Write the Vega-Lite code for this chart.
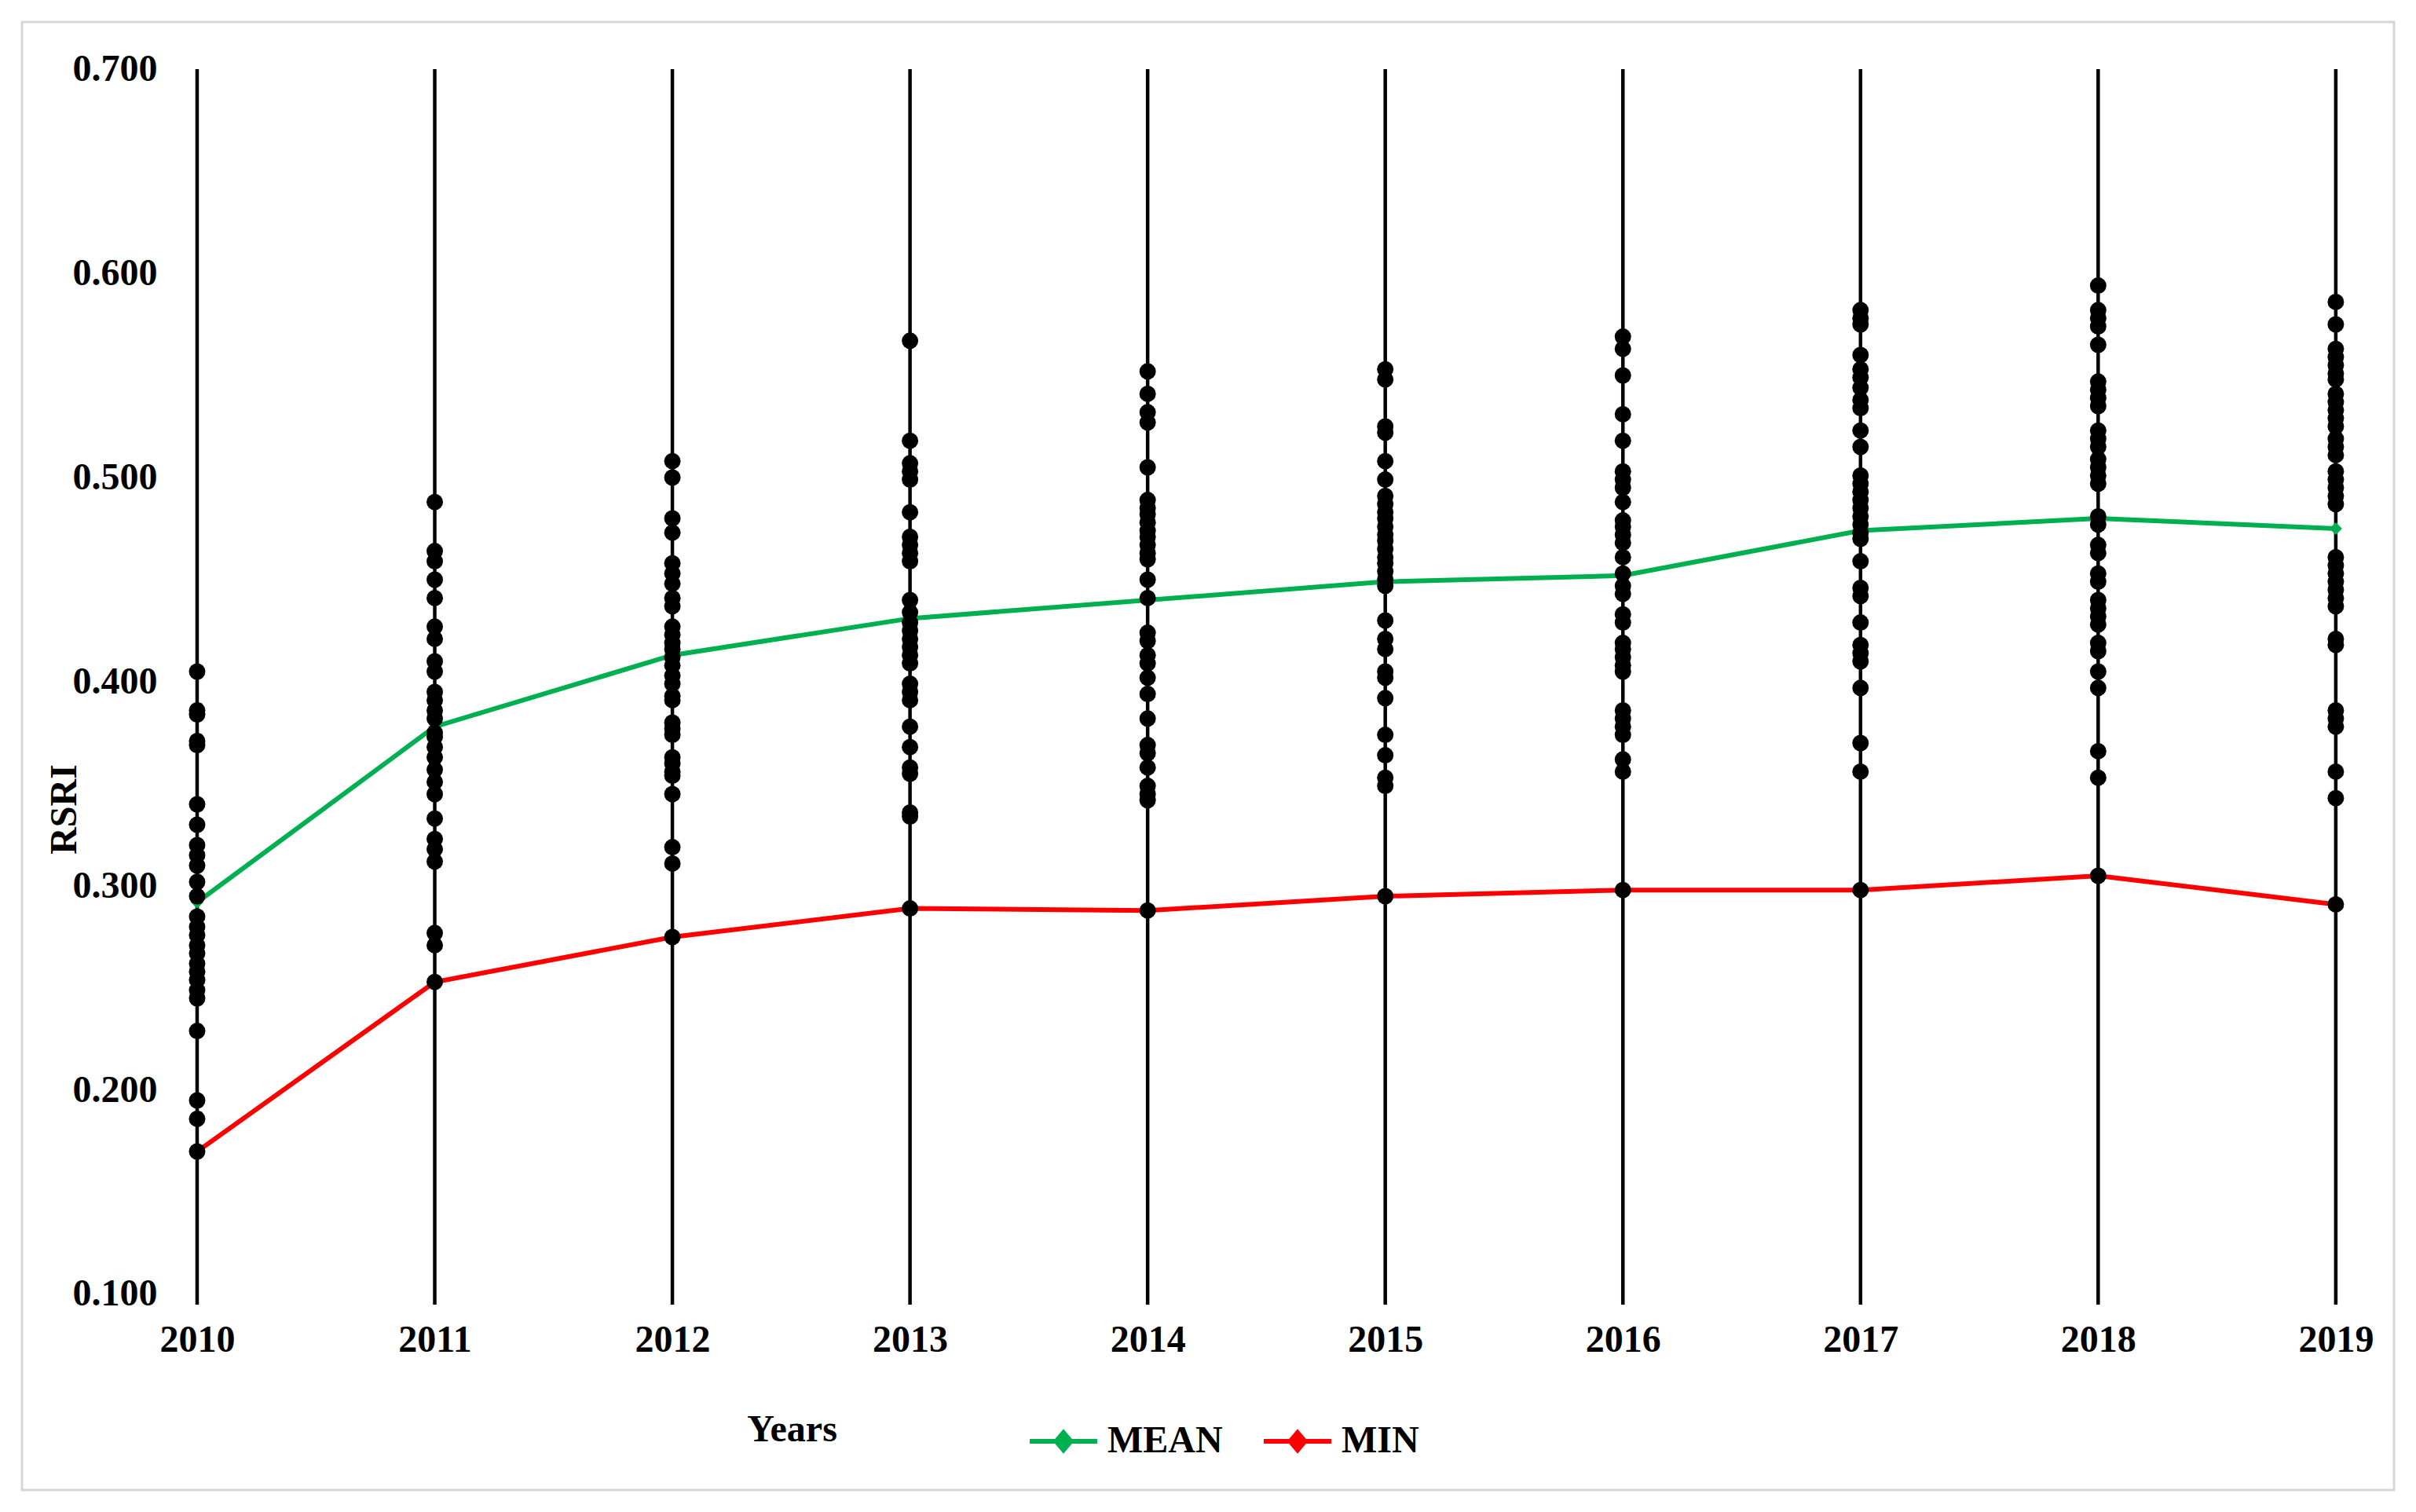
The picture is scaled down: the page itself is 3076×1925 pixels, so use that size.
{
  "$schema": "https://vega.github.io/schema/vega-lite/v6.json",
  "width": 3076,
  "height": 1925,
  "autosize": {"type": "fit", "contains": "padding"},
  "padding": {"left": 28, "top": 28, "right": 28, "bottom": 28},
  "background": "white",
  "config": {"view": {"stroke": "#d6d6d6", "strokeWidth": 3}, "font": "Liberation Serif"},
  "datasets": {
    "years": [{"year": 2010}, {"year": 2011}, {"year": 2012}, {"year": 2013}, {"year": 2014}, {"year": 2015}, {"year": 2016}, {"year": 2017}, {"year": 2018}, {"year": 2019}],
    "stats": [
      {"year": 2010, "stat": "MEAN", "value": 0.292}, {"year": 2011, "stat": "MEAN", "value": 0.378}, {"year": 2012, "stat": "MEAN", "value": 0.413}, {"year": 2013, "stat": "MEAN", "value": 0.431}, {"year": 2014, "stat": "MEAN", "value": 0.440}, {"year": 2015, "stat": "MEAN", "value": 0.449}, {"year": 2016, "stat": "MEAN", "value": 0.452}, {"year": 2017, "stat": "MEAN", "value": 0.474}, {"year": 2018, "stat": "MEAN", "value": 0.480}, {"year": 2019, "stat": "MEAN", "value": 0.475},
      {"year": 2010, "stat": "MIN", "value": 0.170}, {"year": 2011, "stat": "MIN", "value": 0.253}, {"year": 2012, "stat": "MIN", "value": 0.275}, {"year": 2013, "stat": "MIN", "value": 0.289}, {"year": 2014, "stat": "MIN", "value": 0.288}, {"year": 2015, "stat": "MIN", "value": 0.295}, {"year": 2016, "stat": "MIN", "value": 0.298}, {"year": 2017, "stat": "MIN", "value": 0.298}, {"year": 2018, "stat": "MIN", "value": 0.305}, {"year": 2019, "stat": "MIN", "value": 0.291}
    ],
    "dots": [
      {"year": 2010, "rsri": 0.405}, {"year": 2010, "rsri": 0.386}, {"year": 2010, "rsri": 0.384}, {"year": 2010, "rsri": 0.371}, {"year": 2010, "rsri": 0.369}, {"year": 2010, "rsri": 0.340}, {"year": 2010, "rsri": 0.330}, {"year": 2010, "rsri": 0.320}, {"year": 2010, "rsri": 0.315}, {"year": 2010, "rsri": 0.310}, {"year": 2010, "rsri": 0.302}, {"year": 2010, "rsri": 0.295}, {"year": 2010, "rsri": 0.285}, {"year": 2010, "rsri": 0.280}, {"year": 2010, "rsri": 0.276}, {"year": 2010, "rsri": 0.271}, {"year": 2010, "rsri": 0.267}, {"year": 2010, "rsri": 0.262}, {"year": 2010, "rsri": 0.258}, {"year": 2010, "rsri": 0.254}, {"year": 2010, "rsri": 0.249}, {"year": 2010, "rsri": 0.245}, {"year": 2010, "rsri": 0.229}, {"year": 2010, "rsri": 0.195}, {"year": 2010, "rsri": 0.186}, {"year": 2010, "rsri": 0.170},
      {"year": 2011, "rsri": 0.488}, {"year": 2011, "rsri": 0.464}, {"year": 2011, "rsri": 0.459}, {"year": 2011, "rsri": 0.450}, {"year": 2011, "rsri": 0.441}, {"year": 2011, "rsri": 0.427}, {"year": 2011, "rsri": 0.421}, {"year": 2011, "rsri": 0.410}, {"year": 2011, "rsri": 0.405}, {"year": 2011, "rsri": 0.395}, {"year": 2011, "rsri": 0.391}, {"year": 2011, "rsri": 0.386}, {"year": 2011, "rsri": 0.382}, {"year": 2011, "rsri": 0.375}, {"year": 2011, "rsri": 0.373}, {"year": 2011, "rsri": 0.368}, {"year": 2011, "rsri": 0.363}, {"year": 2011, "rsri": 0.357}, {"year": 2011, "rsri": 0.351}, {"year": 2011, "rsri": 0.345}, {"year": 2011, "rsri": 0.333}, {"year": 2011, "rsri": 0.323}, {"year": 2011, "rsri": 0.318}, {"year": 2011, "rsri": 0.312}, {"year": 2011, "rsri": 0.277}, {"year": 2011, "rsri": 0.271}, {"year": 2011, "rsri": 0.253},
      {"year": 2012, "rsri": 0.508}, {"year": 2012, "rsri": 0.500}, {"year": 2012, "rsri": 0.480}, {"year": 2012, "rsri": 0.473}, {"year": 2012, "rsri": 0.458}, {"year": 2012, "rsri": 0.453}, {"year": 2012, "rsri": 0.448}, {"year": 2012, "rsri": 0.441}, {"year": 2012, "rsri": 0.437}, {"year": 2012, "rsri": 0.427}, {"year": 2012, "rsri": 0.423}, {"year": 2012, "rsri": 0.419}, {"year": 2012, "rsri": 0.416}, {"year": 2012, "rsri": 0.412}, {"year": 2012, "rsri": 0.408}, {"year": 2012, "rsri": 0.403}, {"year": 2012, "rsri": 0.399}, {"year": 2012, "rsri": 0.393}, {"year": 2012, "rsri": 0.391}, {"year": 2012, "rsri": 0.380}, {"year": 2012, "rsri": 0.377}, {"year": 2012, "rsri": 0.374}, {"year": 2012, "rsri": 0.363}, {"year": 2012, "rsri": 0.360}, {"year": 2012, "rsri": 0.356}, {"year": 2012, "rsri": 0.354}, {"year": 2012, "rsri": 0.345}, {"year": 2012, "rsri": 0.319}, {"year": 2012, "rsri": 0.311}, {"year": 2012, "rsri": 0.275},
      {"year": 2013, "rsri": 0.567}, {"year": 2013, "rsri": 0.518}, {"year": 2013, "rsri": 0.507}, {"year": 2013, "rsri": 0.503}, {"year": 2013, "rsri": 0.499}, {"year": 2013, "rsri": 0.483}, {"year": 2013, "rsri": 0.471}, {"year": 2013, "rsri": 0.467}, {"year": 2013, "rsri": 0.463}, {"year": 2013, "rsri": 0.459}, {"year": 2013, "rsri": 0.440}, {"year": 2013, "rsri": 0.434}, {"year": 2013, "rsri": 0.429}, {"year": 2013, "rsri": 0.425}, {"year": 2013, "rsri": 0.421}, {"year": 2013, "rsri": 0.417}, {"year": 2013, "rsri": 0.413}, {"year": 2013, "rsri": 0.409}, {"year": 2013, "rsri": 0.399}, {"year": 2013, "rsri": 0.395}, {"year": 2013, "rsri": 0.391}, {"year": 2013, "rsri": 0.378}, {"year": 2013, "rsri": 0.368}, {"year": 2013, "rsri": 0.358}, {"year": 2013, "rsri": 0.355}, {"year": 2013, "rsri": 0.336}, {"year": 2013, "rsri": 0.334}, {"year": 2013, "rsri": 0.289},
      {"year": 2014, "rsri": 0.552}, {"year": 2014, "rsri": 0.541}, {"year": 2014, "rsri": 0.532}, {"year": 2014, "rsri": 0.527}, {"year": 2014, "rsri": 0.505}, {"year": 2014, "rsri": 0.489}, {"year": 2014, "rsri": 0.485}, {"year": 2014, "rsri": 0.482}, {"year": 2014, "rsri": 0.478}, {"year": 2014, "rsri": 0.474}, {"year": 2014, "rsri": 0.471}, {"year": 2014, "rsri": 0.467}, {"year": 2014, "rsri": 0.463}, {"year": 2014, "rsri": 0.460}, {"year": 2014, "rsri": 0.450}, {"year": 2014, "rsri": 0.441}, {"year": 2014, "rsri": 0.424}, {"year": 2014, "rsri": 0.420}, {"year": 2014, "rsri": 0.413}, {"year": 2014, "rsri": 0.409}, {"year": 2014, "rsri": 0.402}, {"year": 2014, "rsri": 0.394}, {"year": 2014, "rsri": 0.382}, {"year": 2014, "rsri": 0.369}, {"year": 2014, "rsri": 0.365}, {"year": 2014, "rsri": 0.358}, {"year": 2014, "rsri": 0.349}, {"year": 2014, "rsri": 0.345}, {"year": 2014, "rsri": 0.342}, {"year": 2014, "rsri": 0.288},
      {"year": 2015, "rsri": 0.553}, {"year": 2015, "rsri": 0.548}, {"year": 2015, "rsri": 0.525}, {"year": 2015, "rsri": 0.522}, {"year": 2015, "rsri": 0.508}, {"year": 2015, "rsri": 0.499}, {"year": 2015, "rsri": 0.491}, {"year": 2015, "rsri": 0.487}, {"year": 2015, "rsri": 0.483}, {"year": 2015, "rsri": 0.480}, {"year": 2015, "rsri": 0.476}, {"year": 2015, "rsri": 0.472}, {"year": 2015, "rsri": 0.469}, {"year": 2015, "rsri": 0.465}, {"year": 2015, "rsri": 0.461}, {"year": 2015, "rsri": 0.458}, {"year": 2015, "rsri": 0.454}, {"year": 2015, "rsri": 0.450}, {"year": 2015, "rsri": 0.447}, {"year": 2015, "rsri": 0.430}, {"year": 2015, "rsri": 0.421}, {"year": 2015, "rsri": 0.416}, {"year": 2015, "rsri": 0.405}, {"year": 2015, "rsri": 0.402}, {"year": 2015, "rsri": 0.392}, {"year": 2015, "rsri": 0.374}, {"year": 2015, "rsri": 0.364}, {"year": 2015, "rsri": 0.353}, {"year": 2015, "rsri": 0.349}, {"year": 2015, "rsri": 0.295},
      {"year": 2016, "rsri": 0.569}, {"year": 2016, "rsri": 0.563}, {"year": 2016, "rsri": 0.550}, {"year": 2016, "rsri": 0.531}, {"year": 2016, "rsri": 0.518}, {"year": 2016, "rsri": 0.503}, {"year": 2016, "rsri": 0.499}, {"year": 2016, "rsri": 0.495}, {"year": 2016, "rsri": 0.488}, {"year": 2016, "rsri": 0.479}, {"year": 2016, "rsri": 0.476}, {"year": 2016, "rsri": 0.472}, {"year": 2016, "rsri": 0.468}, {"year": 2016, "rsri": 0.461}, {"year": 2016, "rsri": 0.453}, {"year": 2016, "rsri": 0.447}, {"year": 2016, "rsri": 0.443}, {"year": 2016, "rsri": 0.433}, {"year": 2016, "rsri": 0.429}, {"year": 2016, "rsri": 0.419}, {"year": 2016, "rsri": 0.416}, {"year": 2016, "rsri": 0.412}, {"year": 2016, "rsri": 0.408}, {"year": 2016, "rsri": 0.405}, {"year": 2016, "rsri": 0.386}, {"year": 2016, "rsri": 0.382}, {"year": 2016, "rsri": 0.378}, {"year": 2016, "rsri": 0.374}, {"year": 2016, "rsri": 0.362}, {"year": 2016, "rsri": 0.356}, {"year": 2016, "rsri": 0.298},
      {"year": 2017, "rsri": 0.582}, {"year": 2017, "rsri": 0.578}, {"year": 2017, "rsri": 0.575}, {"year": 2017, "rsri": 0.560}, {"year": 2017, "rsri": 0.553}, {"year": 2017, "rsri": 0.549}, {"year": 2017, "rsri": 0.544}, {"year": 2017, "rsri": 0.538}, {"year": 2017, "rsri": 0.534}, {"year": 2017, "rsri": 0.523}, {"year": 2017, "rsri": 0.515}, {"year": 2017, "rsri": 0.501}, {"year": 2017, "rsri": 0.497}, {"year": 2017, "rsri": 0.493}, {"year": 2017, "rsri": 0.489}, {"year": 2017, "rsri": 0.485}, {"year": 2017, "rsri": 0.481}, {"year": 2017, "rsri": 0.477}, {"year": 2017, "rsri": 0.473}, {"year": 2017, "rsri": 0.470}, {"year": 2017, "rsri": 0.459}, {"year": 2017, "rsri": 0.446}, {"year": 2017, "rsri": 0.442}, {"year": 2017, "rsri": 0.429}, {"year": 2017, "rsri": 0.418}, {"year": 2017, "rsri": 0.414}, {"year": 2017, "rsri": 0.410}, {"year": 2017, "rsri": 0.397}, {"year": 2017, "rsri": 0.370}, {"year": 2017, "rsri": 0.356}, {"year": 2017, "rsri": 0.298},
      {"year": 2018, "rsri": 0.594}, {"year": 2018, "rsri": 0.582}, {"year": 2018, "rsri": 0.578}, {"year": 2018, "rsri": 0.574}, {"year": 2018, "rsri": 0.565}, {"year": 2018, "rsri": 0.547}, {"year": 2018, "rsri": 0.543}, {"year": 2018, "rsri": 0.539}, {"year": 2018, "rsri": 0.535}, {"year": 2018, "rsri": 0.523}, {"year": 2018, "rsri": 0.519}, {"year": 2018, "rsri": 0.515}, {"year": 2018, "rsri": 0.509}, {"year": 2018, "rsri": 0.505}, {"year": 2018, "rsri": 0.501}, {"year": 2018, "rsri": 0.497}, {"year": 2018, "rsri": 0.481}, {"year": 2018, "rsri": 0.477}, {"year": 2018, "rsri": 0.467}, {"year": 2018, "rsri": 0.463}, {"year": 2018, "rsri": 0.453}, {"year": 2018, "rsri": 0.449}, {"year": 2018, "rsri": 0.440}, {"year": 2018, "rsri": 0.436}, {"year": 2018, "rsri": 0.432}, {"year": 2018, "rsri": 0.428}, {"year": 2018, "rsri": 0.419}, {"year": 2018, "rsri": 0.415}, {"year": 2018, "rsri": 0.405}, {"year": 2018, "rsri": 0.397}, {"year": 2018, "rsri": 0.366}, {"year": 2018, "rsri": 0.353}, {"year": 2018, "rsri": 0.305},
      {"year": 2019, "rsri": 0.586}, {"year": 2019, "rsri": 0.575}, {"year": 2019, "rsri": 0.563}, {"year": 2019, "rsri": 0.559}, {"year": 2019, "rsri": 0.555}, {"year": 2019, "rsri": 0.551}, {"year": 2019, "rsri": 0.548}, {"year": 2019, "rsri": 0.541}, {"year": 2019, "rsri": 0.537}, {"year": 2019, "rsri": 0.533}, {"year": 2019, "rsri": 0.529}, {"year": 2019, "rsri": 0.525}, {"year": 2019, "rsri": 0.519}, {"year": 2019, "rsri": 0.515}, {"year": 2019, "rsri": 0.511}, {"year": 2019, "rsri": 0.503}, {"year": 2019, "rsri": 0.499}, {"year": 2019, "rsri": 0.495}, {"year": 2019, "rsri": 0.491}, {"year": 2019, "rsri": 0.487}, {"year": 2019, "rsri": 0.461}, {"year": 2019, "rsri": 0.457}, {"year": 2019, "rsri": 0.453}, {"year": 2019, "rsri": 0.449}, {"year": 2019, "rsri": 0.445}, {"year": 2019, "rsri": 0.441}, {"year": 2019, "rsri": 0.437}, {"year": 2019, "rsri": 0.421}, {"year": 2019, "rsri": 0.418}, {"year": 2019, "rsri": 0.386}, {"year": 2019, "rsri": 0.382}, {"year": 2019, "rsri": 0.378}, {"year": 2019, "rsri": 0.356}, {"year": 2019, "rsri": 0.343}, {"year": 2019, "rsri": 0.291}
    ]
  },
  "layer": [
    {
      "data": {"name": "years"},
      "mark": {"type": "rule", "color": "black", "strokeWidth": 4.5},
      "encoding": {
        "x": {"field": "year", "type": "quantitative", "title": "Years"},
        "y": {"datum": 0.7, "type": "quantitative", "title": "RSRI"},
        "y2": {"datum": 0.095}
      }
    },
    {
      "data": {"name": "stats"},
      "mark": {"type": "line", "strokeWidth": 6, "point": {"shape": "diamond", "size": 260, "filled": true}},
      "encoding": {
        "x": {"field": "year", "type": "quantitative", "title": "Years"},
        "y": {"field": "value", "type": "quantitative", "title": "RSRI"},
        "color": {
          "field": "stat",
          "type": "nominal",
          "scale": {"domain": ["MEAN", "MIN"], "range": ["#00b050", "#ff0000"]},
          "legend": {
            "orient": "none",
            "legendX": 1280,
            "legendY": 1761,
            "direction": "horizontal",
            "title": null,
            "labelFont": "Liberation Serif",
            "labelFontSize": 48,
            "labelFontWeight": "bold",
            "labelColor": "black",
            "symbolType": "M-1,0L1,0M0,-0.26L0.22,0L0,0.26L-0.22,0Z",
            "symbolSize": 7396,
            "symbolStrokeWidth": 6,
            "labelOffset": 10,
            "columnPadding": 40,
            "padding": 0
          }
        }
      }
    },
    {
      "data": {"name": "dots"},
      "mark": {"type": "circle", "size": 440, "color": "black", "opacity": 1},
      "encoding": {
        "x": {
          "field": "year",
          "type": "quantitative",
          "title": "Years",
          "scale": {"domain": [2009.263, 2019.245], "nice": false, "zero": false},
          "axis": {
            "values": [2010, 2011, 2012, 2013, 2014, 2015, 2016, 2017, 2018, 2019],
            "format": "d",
            "domain": false,
            "ticks": false,
            "tickSize": 0,
            "grid": false,
            "labelFont": "Liberation Serif",
            "labelFontSize": 48,
            "labelFontWeight": "bold",
            "labelColor": "black",
            "labelPadding": 0,
            "labelBaseline": "middle",
            "labelFlush": false,
            "labelOverlap": false,
            "offset": -191,
            "title": "Years",
            "titleFont": "Liberation Serif",
            "titleFontSize": 48,
            "titleFontWeight": "bold",
            "titleColor": "black",
            "titleX": 980,
            "titleY": 114,
            "titleAlign": "center",
            "titleBaseline": "middle"
          }
        },
        "y": {
          "field": "rsri",
          "type": "quantitative",
          "title": "RSRI",
          "scale": {"domain": [0.00423, 0.72308], "nice": false, "zero": false},
          "axis": {
            "values": [0.1, 0.2, 0.3, 0.4, 0.5, 0.6, 0.7],
            "format": ".3f",
            "domain": false,
            "ticks": false,
            "tickSize": 0,
            "grid": false,
            "labelFont": "Liberation Serif",
            "labelFontSize": 48,
            "labelFontWeight": "bold",
            "labelColor": "black",
            "labelPadding": 0,
            "labelBaseline": "middle",
            "labelFlush": false,
            "labelOverlap": false,
            "offset": -172,
            "title": "RSRI",
            "titleFont": "Liberation Serif",
            "titleFontSize": 48,
            "titleFontWeight": "bold",
            "titleColor": "black",
            "titleX": -118,
            "titleY": 1002,
            "titleAngle": -90,
            "titleAlign": "center",
            "titleBaseline": "middle"
          }
        }
      }
    }
  ]
}
